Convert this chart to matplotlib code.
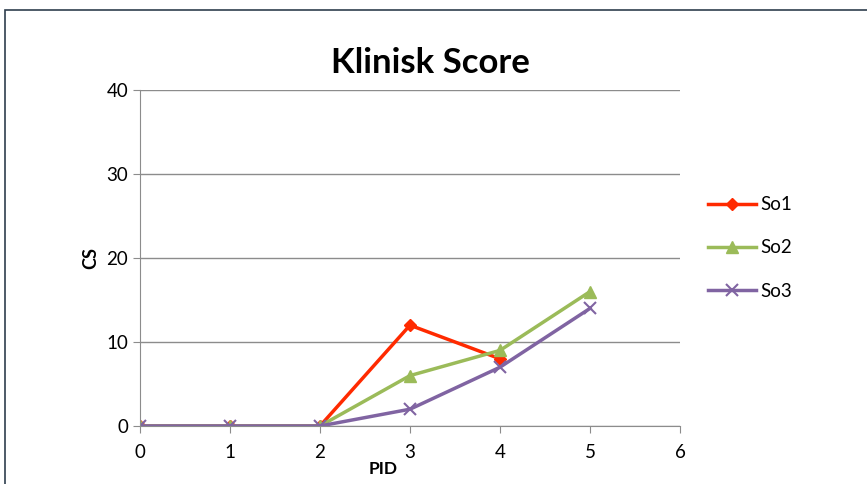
import matplotlib.pyplot as plt
from matplotlib.patches import Rectangle

plt.rcParams['font.family'] = ['Lato', 'DejaVu Sans']

pid = [0, 1, 2, 3, 4, 5]
so1 = [0, 0, 0, 12, 8]
so2 = [0, 0, 0, 6, 9, 16]
so3 = [0, 0, 0, 2, 7, 14]

fig = plt.figure(figsize=(8.67, 4.84), dpi=100)
ax = fig.add_axes([140/867, 58/484, 540/867, 336/484])

ax.plot(pid[:len(so1)], so1, color='#FF2A00', lw=2.5, marker='D', ms=6.5, label='So1')
ax.plot(pid, so2, color='#9BBB59', lw=2.5, marker='^', ms=8.5, label='So2')
ax.plot(pid, so3, color='#8064A2', lw=2.5, marker='x', ms=8.5, mew=1.5, label='So3')

ax.set_xlim(0, 6)
ax.set_ylim(0, 40)
ax.set_xticks(range(7))
ax.set_yticks(range(0, 41, 10))
ax.grid(axis='y', color='#8c8c8c', lw=1)
ax.set_axisbelow(True)
for s in ['top', 'right']:
    ax.spines[s].set_visible(False)
for s in ['left', 'bottom']:
    ax.spines[s].set_color('#8c8c8c')
ax.tick_params(colors='#8c8c8c', labelcolor='black', labelsize=13.5, length=5)
ax.tick_params(axis='x', pad=8)

ax.set_title('Klinisk Score', fontsize=25, fontweight='bold', pad=12, x=0.537)
ax.set_ylabel('CS', fontsize=13, fontweight='bold', labelpad=0)
ax.yaxis.set_label_coords(-0.075, 0.5)
ax.set_xlabel('PID', fontsize=12.5, fontweight='bold')
ax.xaxis.set_label_coords(0.45, -0.105)

ax.legend(loc='center left', bbox_to_anchor=(1.02, 0.53), frameon=False,
          fontsize=13.5, labelspacing=1.4, handlelength=2.6, handletextpad=0.2)

fig.patches.append(Rectangle((5/867, -0.1), 1, 474/484 + 0.1, transform=fig.transFigure,
                             fill=False, edgecolor='#2f3e4e', lw=1.2))

fig.savefig('out.png', dpi=100)
